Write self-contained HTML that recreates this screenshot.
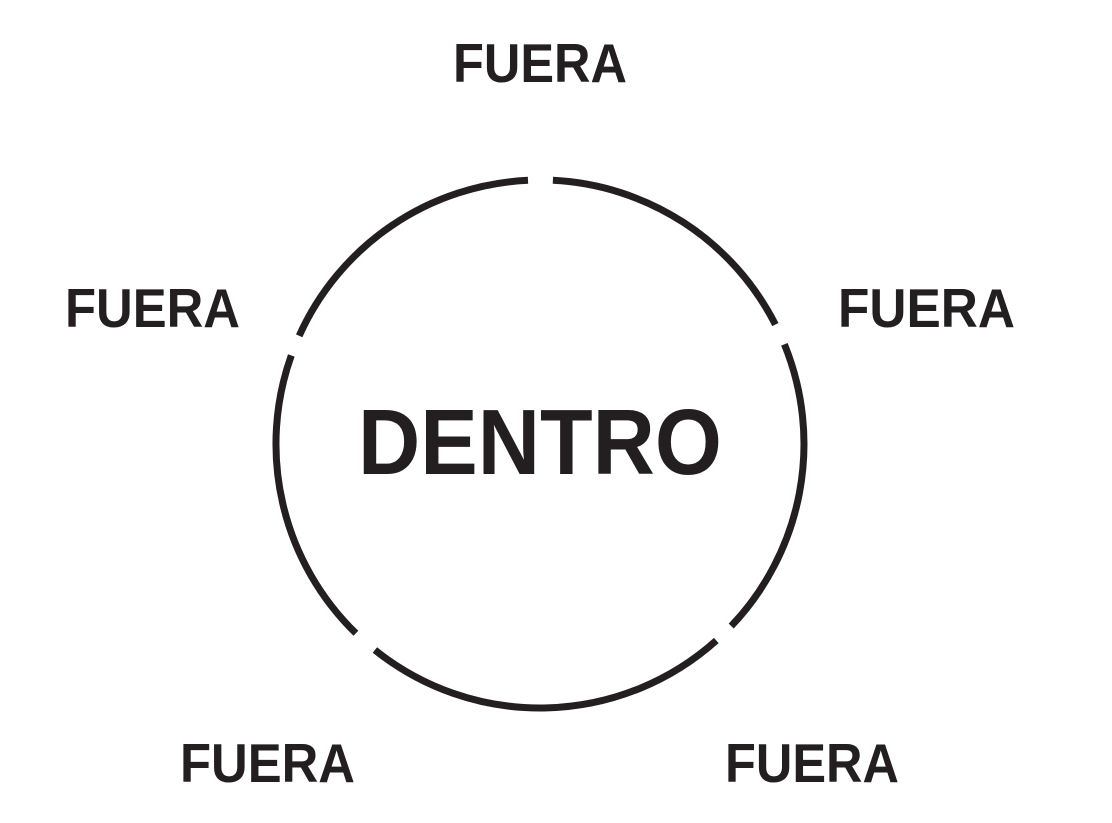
<!DOCTYPE html>
<html><head><meta charset="utf-8"><style>
html,body{margin:0;padding:0;background:#fff;}
svg{display:block;}
text{font-family:"Liberation Sans",sans-serif;font-weight:bold;fill:#231f20;}
</style></head><body>
<svg width="1112" height="823" viewBox="0 0 1112 823">
<g fill="none" stroke="#231f20" stroke-width="7">
<path d="M552.9,180.3 A264,264 0 0 1 775.4,324.6"/>
<path d="M784.4,344.3 A264,264 0 0 1 731.2,626.1"/>
<path d="M716.3,640.5 A264,264 0 0 1 374.9,650.0"/>
<path d="M355.9,633.3 A264,264 0 0 1 291.3,355.4"/>
<path d="M299.2,335.8 A264,264 0 0 1 528.0,180.3"/>
</g>
<text x="453" y="82" font-size="55" textLength="174" lengthAdjust="spacingAndGlyphs">FUERA</text>
<text x="65" y="327" font-size="55" textLength="175" lengthAdjust="spacingAndGlyphs">FUERA</text>
<text x="838" y="327" font-size="55" textLength="177" lengthAdjust="spacingAndGlyphs">FUERA</text>
<text x="180" y="782" font-size="55" textLength="175" lengthAdjust="spacingAndGlyphs">FUERA</text>
<text x="725" y="782" font-size="55" textLength="174" lengthAdjust="spacingAndGlyphs">FUERA</text>
<text x="358" y="474" font-size="93" textLength="364" lengthAdjust="spacingAndGlyphs">DENTRO</text>
</svg>
</body></html>
